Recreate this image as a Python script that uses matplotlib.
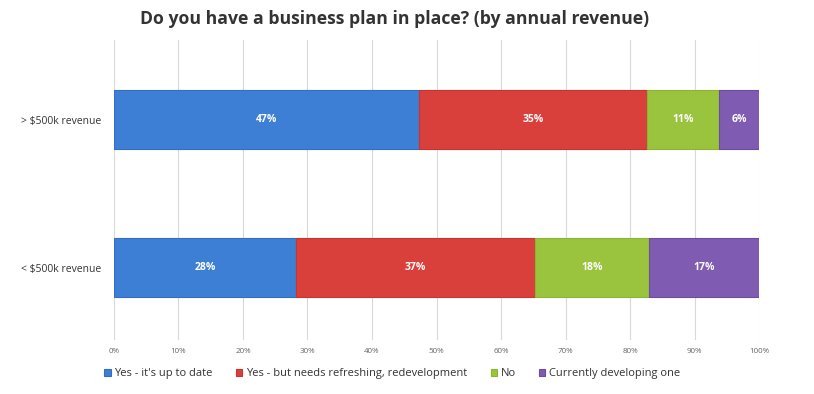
import numpy as np
import matplotlib.pyplot as plt

categories = ['< $500k revenue', '> $500k revenue']
series = ["Yes - it's up to date", 'Yes - but needs refreshing, redevelopment',
          'No', 'Currently developing one']
# shares (percent)
values = {
    "Yes - it's up to date": [28.2, 47.3],
    'Yes - but needs refreshing, redevelopment': [37.1, 35.3],
    'No': [17.6, 11.2],
    'Currently developing one': [17.1, 6.2],
}
labels = {
    "Yes - it's up to date": ['28%', '47%'],
    'Yes - but needs refreshing, redevelopment': ['37%', '35%'],
    'No': ['18%', '11%'],
    'Currently developing one': ['17%', '6%'],
}
colors = ['#3d7fd5', '#d9403c', '#9bc43e', '#7f5bb1']
edges = ['#2f6fc4', '#c93430', '#8ab52e', '#6f4aa0']
ticks = np.arange(0, 101, 10)

plt.rcParams['font.family'] = ['Open Sans', 'DejaVu Sans']

fig = plt.figure(figsize=(8.14, 3.94), dpi=100)
ax = fig.add_axes([0.140, 0.137, 0.7925, 0.761])

y = np.arange(len(categories))
left = np.zeros(len(categories))
for s, c, ec in zip(series, colors, edges):
    v = np.array(values[s])
    ax.barh(y, v, left=left, height=0.40, color=c, edgecolor=ec, lw=0.8,
            label=s, zorder=2)
    for yi, li, vi, lab in zip(y, left, v, labels[s]):
        ax.text(li + vi / 2, yi, lab, ha='center', va='center', color='white',
                fontsize=7.5, fontweight='bold', zorder=3)
    left += v

ax.set_xlim(0, 100)
ax.set_ylim(-0.49, 1.537)
ax.set_xticks(ticks)
ax.set_xticklabels([f'{t}%' for t in ticks], fontsize=5.8, color='#666666')
ax.set_yticks(y)
ax.set_yticklabels(categories, fontsize=7.5, color='#333333')
ax.tick_params(length=0, pad=6)
ax.tick_params(axis='y', pad=9)
ax.grid(axis='x', color='#d9d9d9', lw=0.8, zorder=0)
for sp in ax.spines.values():
    sp.set_visible(False)

fig.suptitle('Do you have a business plan in place? (by annual revenue)',
             x=0.485, y=0.975, fontsize=12.7, fontweight='bold', color='#333333')

fig.legend(loc='lower left', bbox_to_anchor=(0.116, 0.012), ncol=4, frameon=False,
           fontsize=8.0, handlelength=0.55, handleheight=0.55, handletextpad=0.35,
           columnspacing=2.1, labelcolor='#333333')

fig.savefig('out.png', dpi=100)
